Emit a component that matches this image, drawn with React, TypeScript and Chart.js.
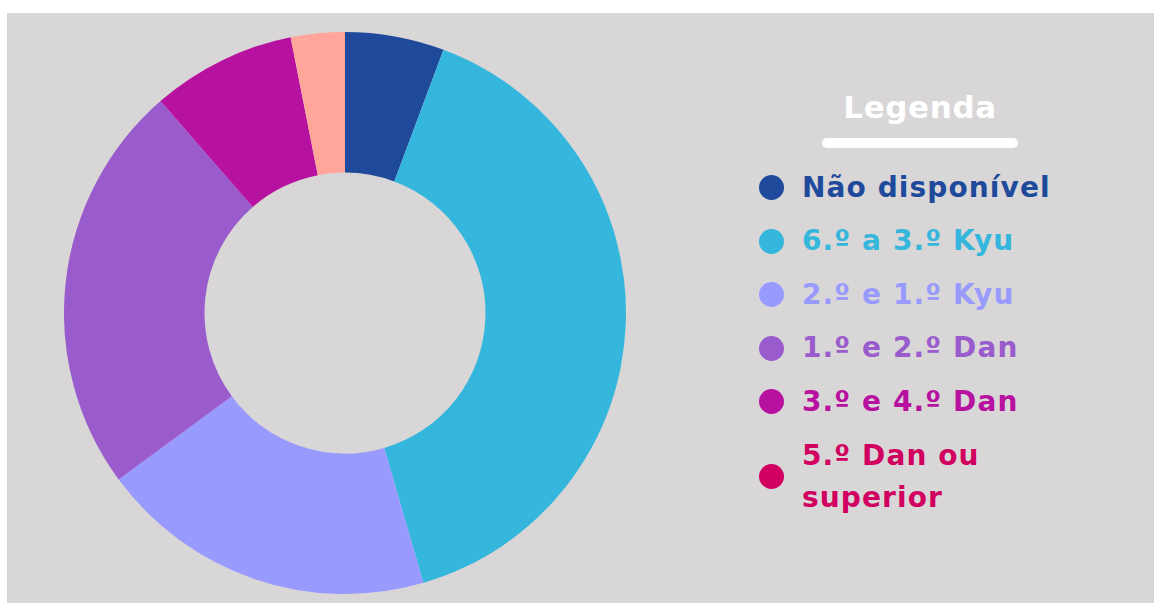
import React, { useEffect, useRef } from "react";
import { Chart, registerables } from "chart.js";

Chart.register(...registerables);

const categories = [
  "Não disponível",
  "6.º a 3.º Kyu",
  "2.º e 1.º Kyu",
  "1.º e 2.º Dan",
  "3.º e 4.º Dan",
  "5.º Dan ou superior",
];
const values = [5.7, 39.8, 19.4, 23.7, 8.3, 3.1];
const sliceColors = ["#1f4a9c", "#35b6dc", "#999afe", "#9a5bcc", "#b711a0", "#ffa59a"];
const legendColors = ["#1f4a9c", "#35b6dc", "#999afe", "#9a5bcc", "#b711a0", "#d10060"];
const legendTitle = "Legenda";

const FONT = '"DejaVu Sans", sans-serif';

export default function App() {
  const ref = useRef<HTMLCanvasElement | null>(null);
  useEffect(() => {
    if (!ref.current) return;
    const chart = new Chart(ref.current, {
      type: "doughnut",
      data: {
        labels: categories,
        datasets: [
          {
            data: values,
            backgroundColor: sliceColors,
            borderWidth: 0,
          },
        ],
      },
      options: {
        responsive: false,
        animation: false,
        cutout: "50%",
        layout: { padding: 0 },
        plugins: {
          legend: { display: false },
          tooltip: { enabled: false },
        },
      },
    });
    return () => chart.destroy();
  }, []);

  return (
    <div
      style={{
        position: "absolute",
        left: 7,
        top: 13,
        width: 1147,
        height: 590,
        background: "#d8d6d7",
        overflow: "hidden",
      }}
    >
      <canvas
        ref={ref}
        width={562}
        height={562}
        style={{ position: "absolute", left: 57, top: 19, width: 562, height: 562 }}
      />
      <div
        style={{
          position: "absolute",
          left: 808,
          top: 72,
          width: 210,
          textAlign: "center",
          fontFamily: FONT,
          fontWeight: 700,
          fontSize: 31,
          letterSpacing: 0.6,
          lineHeight: "44px",
          color: "#ffffff",
        }}
      >
        {legendTitle}
      </div>
      <div
        style={{
          position: "absolute",
          left: 815,
          top: 125,
          width: 196,
          height: 10,
          borderRadius: 5,
          background: "#ffffff",
        }}
      />
      <div
        style={{
          position: "absolute",
          left: 752,
          top: 148,
          fontFamily: FONT,
          fontWeight: 700,
          fontSize: 28,
          letterSpacing: 1.1,
        }}
      >
        {categories.map((c, i) => {
          const last = i === categories.length - 1;
          return (
            <div
              key={c}
              style={{
                display: "flex",
                alignItems: "center",
                marginTop: last ? 6 : 0,
                minHeight: last ? 84 : 53.5,
              }}
            >
              <div
                style={{
                  width: 25,
                  height: 25,
                  borderRadius: "50%",
                  background: legendColors[i],
                  flex: "0 0 auto",
                }}
              />
              <div
                style={{
                  marginLeft: 18,
                  color: legendColors[i],
                  lineHeight: "42px",
                  width: 290,
                }}
              >
                {c}
              </div>
            </div>
          );
        })}
      </div>
    </div>
  );
}
